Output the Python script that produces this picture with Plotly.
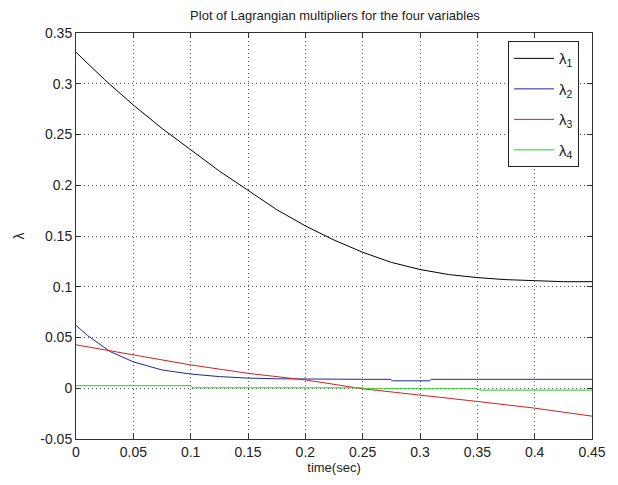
import plotly.graph_objects as go

# ---- data ----
t1 = [0, 0.025, 0.05, 0.075, 0.1, 0.125, 0.15, 0.175, 0.2, 0.225, 0.25,
      0.275, 0.3, 0.325, 0.35, 0.375, 0.4, 0.425, 0.45]
lam1 = [0.331, 0.304, 0.279, 0.256, 0.235, 0.214, 0.195, 0.176, 0.160, 0.146,
        0.134, 0.124, 0.117, 0.112, 0.109, 0.107, 0.106, 0.105, 0.105]

t2 = [0, 0.01, 0.02, 0.03, 0.04, 0.05, 0.075, 0.1, 0.125, 0.15, 0.175, 0.2,
      0.25, 0.274, 0.276, 0.308, 0.31, 0.35, 0.4, 0.45]
lam2 = [0.062, 0.052, 0.044, 0.036, 0.031, 0.026, 0.018, 0.014, 0.0115, 0.0100,
        0.0093, 0.0089, 0.0088, 0.0088, 0.0073, 0.0073, 0.0088, 0.0088, 0.0088, 0.0088]

t3 = [0, 0.05, 0.1, 0.15, 0.2, 0.25, 0.3, 0.35, 0.4, 0.45]
lam3 = [0.0428, 0.033, 0.023, 0.0147, 0.0082, -0.0005, -0.0065, -0.013, -0.0196, -0.0275]

t4 = [0, 0.1, 0.102, 0.25, 0.252, 0.35, 0.352, 0.45]
lam4 = [0.0025, 0.0025, 0.0004, 0.0004, -0.0005, -0.0005, -0.0018, -0.0018]

names = ["λ<sub>1</sub>", "λ<sub>2</sub>", "λ<sub>3</sub>", "λ<sub>4</sub>"]
colors = ["#000000", "#1a2a9a", "#d02020", "#22cc22"]

x_ticks = [0, 0.05, 0.1, 0.15, 0.2, 0.25, 0.3, 0.35, 0.4, 0.45]
x_ticklabels = ["0", "0.05", "0.1", "0.15", "0.2", "0.25", "0.3", "0.35", "0.4", "0.45"]
y_ticks = [-0.05, 0, 0.05, 0.1, 0.15, 0.2, 0.25, 0.3, 0.35]
y_ticklabels = ["-0.05", "0", "0.05", "0.1", "0.15", "0.2", "0.25", "0.3", "0.35"]

fig = go.Figure()
for i, (tt, yy) in enumerate([(t1, lam1), (t2, lam2), (t3, lam3), (t4, lam4)]):
    fig.add_trace(go.Scatter(x=tt, y=yy, mode="lines", name=names[i],
                             legendgroup=str(i),
                             line=dict(color=colors[i], width=1)))

font = "Liberation Sans, Arial, sans-serif"
axis_common = dict(showline=True, linecolor="#333", linewidth=1, mirror="ticks",
                   ticks="inside", ticklen=5, tickcolor="#333",
                   showgrid=True, gridcolor="#555", griddash="1px,3px", gridwidth=1,
                   zeroline=False, tickfont=dict(family=font, size=14, color="#222"))

fig.update_layout(
    width=618, height=485,
    margin=dict(l=76, r=24, t=33, b=46),
    paper_bgcolor="white", plot_bgcolor="white",
    title=dict(text="Plot of Lagrangian multipliers for the four variables",
               x=335 / 618, xanchor="center", y=1 - 15 / 485, yanchor="middle",
               font=dict(family=font, size=13, color="#222")),
    xaxis=dict(range=[0, 0.45], tickvals=x_ticks, ticktext=x_ticklabels,
               title=dict(text="time(sec)", font=dict(family=font, size=13, color="#222"),
                          standoff=4),
               **axis_common),
    yaxis=dict(range=[-0.05, 0.35], tickvals=y_ticks, ticktext=y_ticklabels,
               title=dict(text="λ", font=dict(family=font, size=14, color="#222"),
                          standoff=12),
               **axis_common),
    legend=dict(x=0.975, xanchor="right", y=0.98, yanchor="top",
                bgcolor="white", bordercolor="#222", borderwidth=1,
                font=dict(family=font, size=15, color="#222"),
                tracegroupgap=8, itemwidth=40),
    showlegend=True,
)

fig.write_html("out.html")
